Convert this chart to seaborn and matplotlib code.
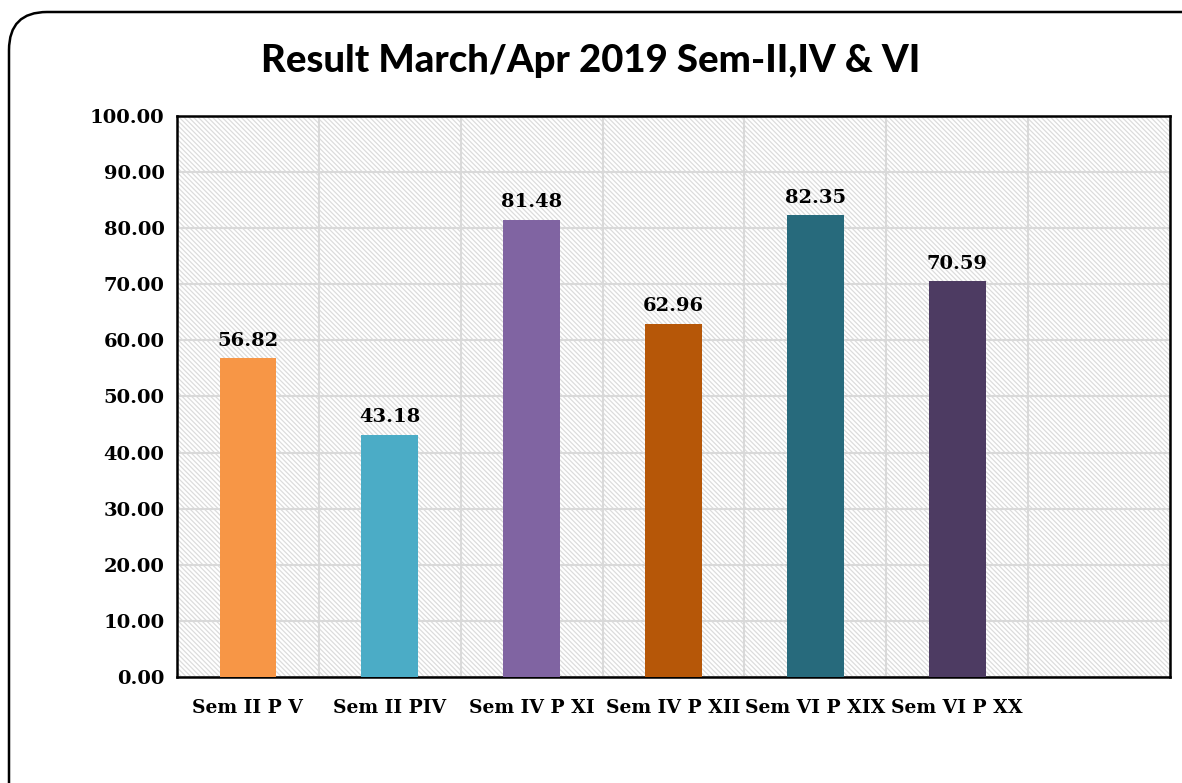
import matplotlib
matplotlib.use('Agg')
import matplotlib.pyplot as plt
import pandas as pd
import seaborn as sns
from matplotlib.patches import FancyBboxPatch

# Data
categories = ['Sem II P V', 'Sem II PIV', 'Sem IV P XI', 'Sem IV P XII',
              'Sem VI P XIX', 'Sem VI P XX', ' ']
values = [56.82, 43.18, 81.48, 62.96, 82.35, 70.59, None]
colors = ['#F79646', '#4BACC6', '#8064A2', '#B65708', '#276A7C', '#4D3B62', '#FFFFFF']

df = pd.DataFrame({'cat': categories, 'val': values})

sns.set_style('white')
plt.rcParams['hatch.color'] = '#dcdcdc'
plt.rcParams['hatch.linewidth'] = 0.9
plt.rcParams['text.color'] = 'black'
plt.rcParams['xtick.color'] = 'black'
plt.rcParams['ytick.color'] = 'black'

fig = plt.figure(figsize=(11.82, 7.83), dpi=100)
ax = fig.add_axes([0.1497, 0.1354, 0.8401, 0.7165])

# rounded frame around the chart
frame = FancyBboxPatch((9, -40), 1220, 811, boxstyle='round,pad=0,rounding_size=38',
                       transform=None, facecolor='none', edgecolor='black',
                       linewidth=1.8, clip_on=False)
fig.patches.append(frame)

ax.set_facecolor('white')
ax.patch.set_hatch('\\' * 7)
ax.patch.set_edgecolor('#dcdcdc')

sns.barplot(data=df, x='cat', y='val', hue='cat', palette=colors, legend=False,
            width=0.4, ax=ax, zorder=3, saturation=1, linewidth=0)

ax.set_ylim(0, 100)
ax.set_xlim(-0.5, 6.5)
ax.set_yticks(range(0, 101, 10))
ax.set_yticklabels([f'{v:.2f}' for v in range(0, 101, 10)])
ax.set_xticks([i + 0.5 for i in range(6)], minor=True)
ax.grid(True, which='major', axis='y', color='#d9d9d9', linewidth=1.5, zorder=1)
ax.grid(True, which='minor', axis='x', color='#d9d9d9', linewidth=1.5, zorder=1)
ax.tick_params(which='both', length=0)
ax.tick_params(axis='y', pad=9)
ax.tick_params(axis='x', pad=16)
ax.set_xlabel('')
ax.set_ylabel('')

for t in ax.get_xticklabels():
    t.set_fontfamily('DejaVu Serif')
    t.set_fontweight('bold')
    t.set_fontsize(13.5)
for t in ax.get_yticklabels():
    t.set_fontfamily('DejaVu Serif')
    t.set_fontweight('bold')
    t.set_fontsize(14)

for sp in ax.spines.values():
    sp.set_visible(True)
    sp.set_color('black')
    sp.set_linewidth(1.8)

for i, v in enumerate(values):
    if v is not None:
        ax.text(i, v + 1.5, f'{v:.2f}', ha='center', va='bottom', color='black',
                fontfamily='DejaVu Serif', fontweight='bold', fontsize=14)

fig.text(0.5, 0.922, 'Result March/Apr 2019 Sem-II,IV & VI', ha='center', va='center',
         fontfamily='Lato', fontweight='black', fontsize=27.5, color='black')

fig.savefig('out.png', dpi=100)
